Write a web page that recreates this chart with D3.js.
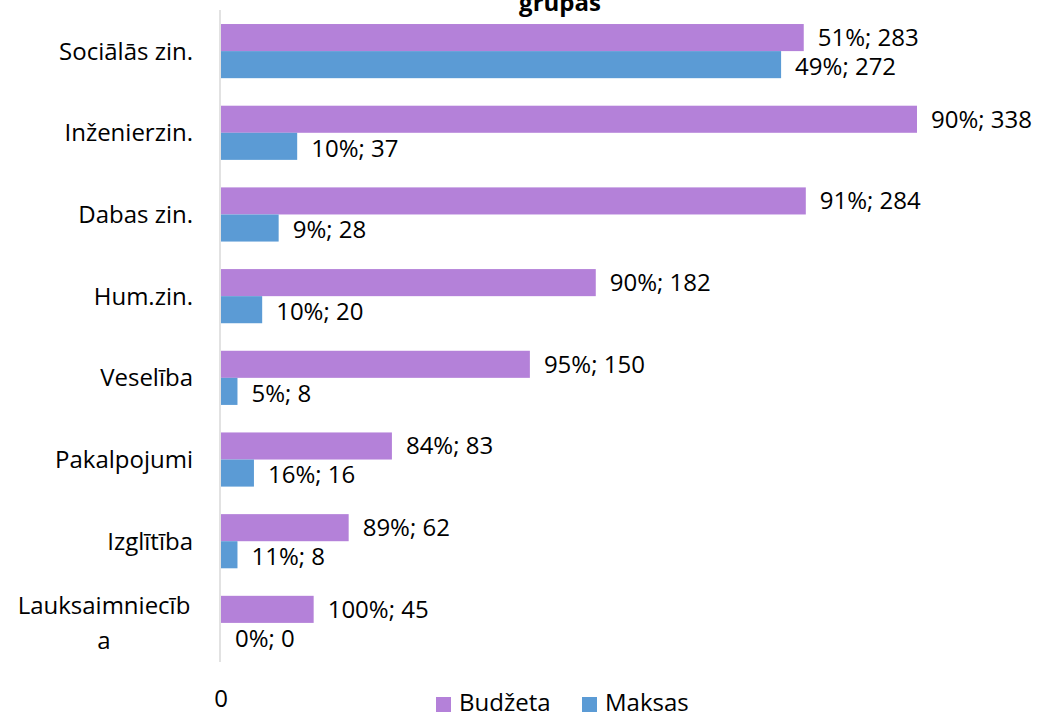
<!DOCTYPE html>
<html>
<head>
<meta charset="utf-8">
<title>grupas</title>
<style>
  body { margin: 0; background: #fff; }
  text { font-family: "Open Sans", "Noto Sans", sans-serif; }
</style>
</head>
<body>
<svg id="mainsvg" width="1046" height="718"></svg>
<script src="https://cdnjs.cloudflare.com/ajax/libs/d3/7.8.5/d3.min.js"></script>
<script>
const categories = ['Sociālās zin.', 'Inženierzin.', 'Dabas zin.', 'Hum.zin.', 'Veselība', 'Pakalpojumi', 'Izglītība', 'Lauksaimniecība'];
const seriesNames = ['Budžeta', 'Maksas'];
const budzetaValues = [283, 338, 284, 182, 150, 83, 62, 45];
const budzetaPct = [51, 90, 91, 90, 95, 84, 89, 100];
const maksasValues = [272, 37, 28, 20, 8, 16, 8, 0];
const maksasPct = [49, 10, 9, 10, 5, 16, 11, 0];
const colors = ['#b481d9', '#5b9bd5'];
const fs = 24;

const svg = d3.select('#mainsvg');
const margin = { left: 221 };

const x = d3.scaleLinear().domain([0, 338]).range([margin.left, margin.left + 696]);
const y = d3.scaleBand().domain(categories).range([24 - 13.7, 650 + 13.7]).paddingInner(0.337).paddingOuter(0.168);
const sub = d3.scaleBand().domain(seriesNames).range([0, y.bandwidth()]);

const data = categories.map((c, i) => ({
  cat: c,
  vals: [
    { s: 'Budžeta', v: budzetaValues[i], p: budzetaPct[i] },
    { s: 'Maksas', v: maksasValues[i], p: maksasPct[i] }
  ]
}));

// title (only its last line shows at the top edge)
svg.append('text').attr('x', 560).attr('y', 11).attr('text-anchor', 'middle')
  .attr('font-size', 24).attr('font-weight', 'bold').text('grupas');

// axis line
svg.append('line').attr('x1', x(0) - 1).attr('x2', x(0) - 1).attr('y1', 10).attr('y2', 662)
  .attr('stroke', '#d9d9d9').attr('stroke-width', 1.5);

const groups = svg.selectAll('g.cat').data(data).join('g')
  .attr('class', 'cat')
  .attr('transform', d => `translate(0,${y(d.cat)})`);

groups.selectAll('rect').data(d => d.vals).join('rect')
  .attr('x', x(0))
  .attr('y', d => sub(d.s))
  .attr('width', d => x(d.v) - x(0))
  .attr('height', sub.bandwidth())
  .attr('fill', (d, i) => colors[i]);

groups.selectAll('text.lbl').data(d => d.vals).join('text')
  .attr('class', 'lbl')
  .attr('x', d => x(d.v) + 14)
  .attr('y', d => sub(d.s) + sub.bandwidth() / 2 + (d.s === 'Budžeta' ? 2 : 4))
  .attr('dominant-baseline', 'middle')
  .attr('font-size', fs)
  .attr('fill', '#000')
  .text(d => `${d.p}%; ${d.v}`);

// category labels
groups.each(function (d) {
  const g = d3.select(this);
  if (d.cat === 'Lauksaimniecība') {
    const t = g.append('text').attr('text-anchor', 'middle').attr('font-size', fs).attr('fill', '#000');
    t.append('tspan').attr('x', 104).attr('y', y.bandwidth() / 2 - 15).attr('dominant-baseline', 'middle').text('Lauksaimniecīb');
    t.append('tspan').attr('x', 104).attr('y', y.bandwidth() / 2 + 20).attr('dominant-baseline', 'middle').text('a');
  } else {
    g.append('text').attr('x', 193).attr('y', y.bandwidth() / 2 + 2)
      .attr('text-anchor', 'end').attr('dominant-baseline', 'middle')
      .attr('font-size', fs).attr('fill', '#000').text(d.cat);
  }
});

// x tick
svg.append('text').attr('x', x(0)).attr('y', 701).attr('dominant-baseline', 'middle')
  .attr('text-anchor', 'middle').attr('font-size', fs).text('0');

// legend
const legX = [436, 582];
const leg = svg.selectAll('g.leg').data(seriesNames).join('g').attr('class', 'leg')
  .attr('transform', (d, i) => `translate(${legX[i]},697)`);
leg.append('rect').attr('width', 15).attr('height', 15).attr('fill', (d, i) => colors[i]);
leg.append('text').attr('x', 23).attr('y', 8).attr('dominant-baseline', 'middle')
  .attr('font-size', fs).text(d => d);
</script>
</body>
</html>
